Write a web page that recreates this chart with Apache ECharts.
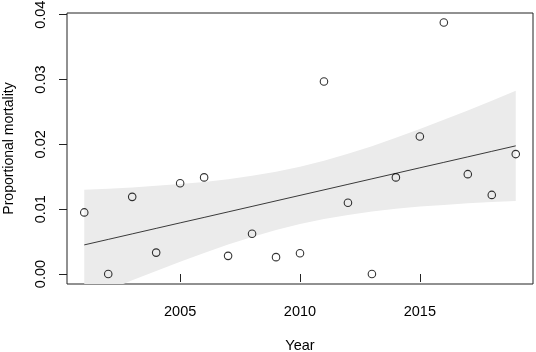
<!DOCTYPE html>
<html>
<head>
<meta charset="utf-8">
<script src="https://cdn.jsdelivr.net/npm/echarts@6/dist/echarts.min.js"></script>
<style>
html,body{margin:0;padding:0;background:#fff;}
#chart{width:536px;height:352px;}
</style>
</head>
<body>
<div id="chart"></div>
<script>
// Data
var years = [2001,2002,2003,2004,2005,2006,2007,2008,2009,2010,2011,2012,2013,2014,2015,2016,2017,2018,2019];
var mortality = [0.0095,0.0000,0.0119,0.0033,0.0140,0.0149,0.0028,0.0062,0.0026,0.0032,0.0297,0.0110,0.0000,0.0149,0.0212,0.0388,0.0154,0.0122,0.0185];
var fitted = [0.00449,0.00534,0.00619,0.00704,0.00789,0.00873,0.00958,0.01043,0.01128,0.01213,0.01298,0.01383,0.01468,0.01553,0.01638,0.01722,0.01807,0.01892,0.01977];
var bandUpper = [0.0130,0.01316,0.01336,0.0136,0.01387,0.0142,0.01462,0.01514,0.01577,0.01655,0.01747,0.01854,0.01972,0.0210,0.02236,0.02378,0.02524,0.02674,0.02827];
var bandLower = [-0.0040,-0.00248,-0.00098,0.00048,0.00191,0.00326,0.00454,0.00572,0.00679,0.00771,0.00849,0.00912,0.00964,0.01006,0.0104,0.01066,0.0109,0.0111,0.01127];
var xTicks = [2005, 2010, 2015];
var yTicks = [0.00, 0.01, 0.02, 0.03, 0.04];

var chart = echarts.init(document.getElementById('chart'), null, {renderer: 'canvas'});
var font = 'Liberation Sans, Arial, sans-serif';

var bandData = years.map(function (y, i) { return [y, bandLower[i], bandUpper[i]]; });

var option = {
  backgroundColor: '#ffffff',
  animation: false,
  grid: {
    left: 67, top: 13, right: 3, bottom: 68,
    containLabel: false, outerBoundsMode: 'none',
    show: true, borderColor: '#222', borderWidth: 1, backgroundColor: 'transparent'
  },
  xAxis: {
    type: 'value',
    min: 2000.28, max: 2019.72,
    name: 'Year', nameLocation: 'middle', nameGap: 54,
    nameTextStyle: {fontFamily: font, fontSize: 14.5, color: '#000'},
    axisLine: {show: false},
    splitLine: {show: false},
    axisTick: {show: true, length: 8, customValues: xTicks, lineStyle: {color: '#222', width: 1}},
    axisLabel: {customValues: xTicks, margin: 20, fontFamily: font, fontSize: 14.5, color: '#000',
      formatter: function (v) { return String(v); }}
  },
  yAxis: {
    type: 'value',
    min: -0.00154, max: 0.04026,
    name: 'Proportional mortality', nameLocation: 'middle', nameGap: 51,
    nameTextStyle: {fontFamily: font, fontSize: 14, color: '#000'},
    axisLine: {show: false},
    splitLine: {show: false},
    axisTick: {show: true, length: 8, customValues: yTicks, lineStyle: {color: '#222', width: 1}},
    axisLabel: {customValues: yTicks, rotate: 90, margin: 19, fontFamily: font, fontSize: 14.5, color: '#000',
      formatter: function (v) { return v.toFixed(2); }}
  },
  series: [
    {
      type: 'custom',
      clip: true,
      silent: true,
      z: 1,
      data: bandData,
      renderItem: function (params, api) {
        if (params.dataIndex !== 0) return null;
        var pts = [];
        for (var i = 0; i < years.length; i++) pts.push(api.coord([years[i], bandUpper[i]]));
        for (var j = years.length - 1; j >= 0; j--) pts.push(api.coord([years[j], bandLower[j]]));
        return {
          type: 'polygon',
          shape: {points: pts},
          style: {fill: '#ebebeb', stroke: null}
        };
      }
    },
    {
      type: 'line',
      z: 2,
      data: years.map(function (y, i) { return [y, fitted[i]]; }),
      showSymbol: false,
      silent: true,
      lineStyle: {color: '#3a3a3a', width: 1}
    },
    {
      type: 'scatter',
      z: 3,
      data: years.map(function (y, i) { return [y, mortality[i]]; }),
      symbol: 'circle',
      symbolSize: 7.5,
      itemStyle: {color: 'rgba(0,0,0,0)', borderColor: '#000', borderWidth: 1.1}
    }
  ]
};
chart.setOption(option);
</script>
</body>
</html>
